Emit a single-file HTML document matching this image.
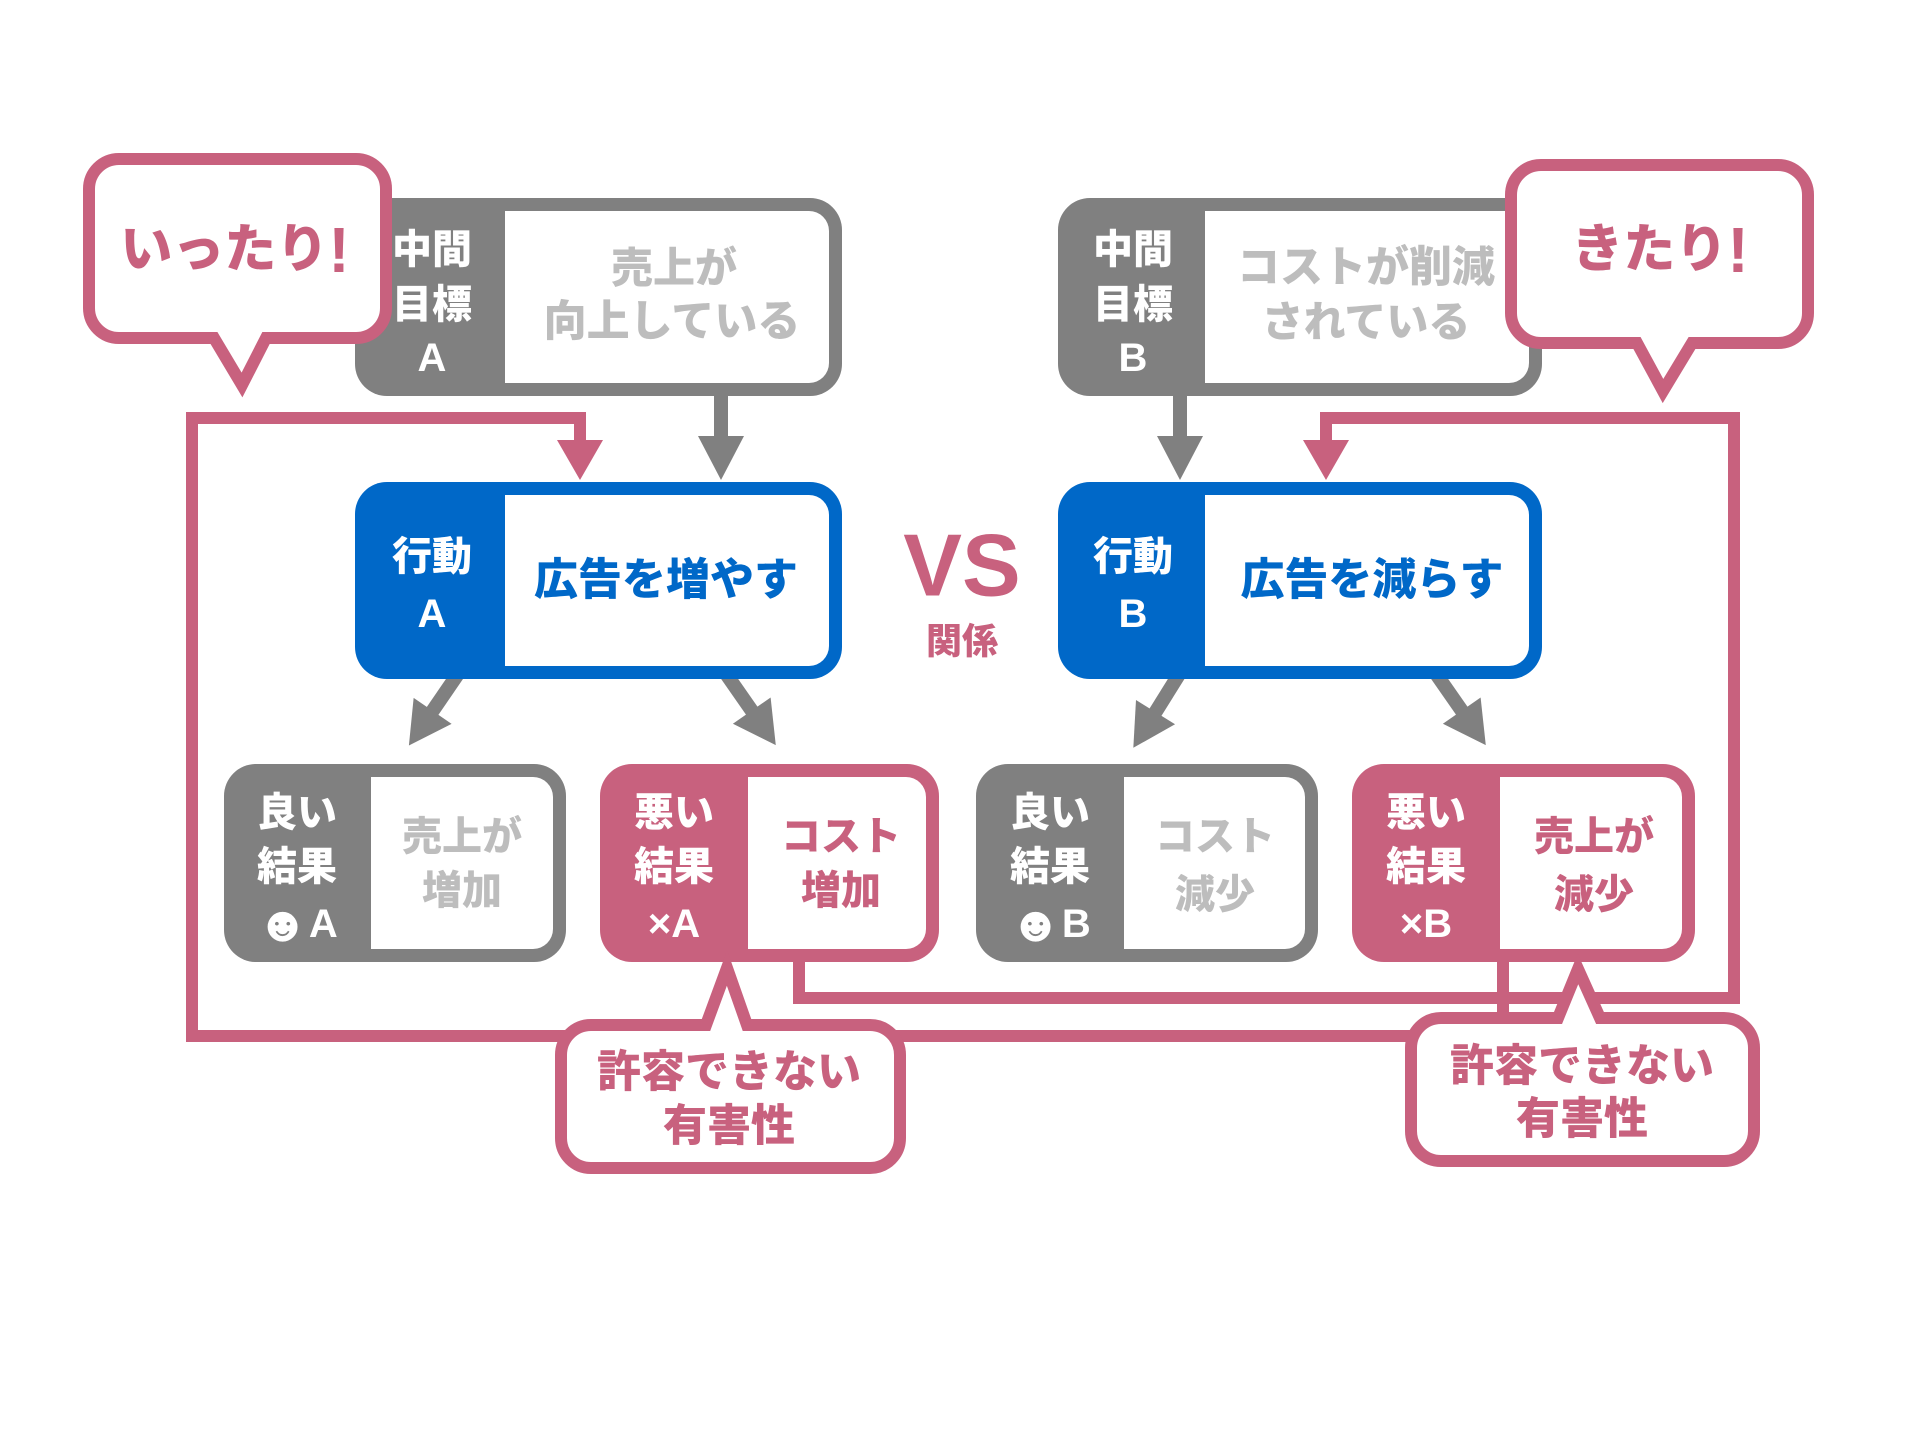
<!DOCTYPE html>
<html><head><meta charset="utf-8"><style>
html,body{margin:0;padding:0;background:#fff}
svg{display:block}
text{font-family:"Liberation Sans","Noto Sans CJK JP",sans-serif;font-weight:900;text-anchor:middle;dominant-baseline:central}
</style></head><body>
<svg width="1920" height="1440" viewBox="0 0 1920 1440" xmlns="http://www.w3.org/2000/svg">
<defs>
<g id="ga"><rect x="-7" y="0" width="14" height="60"/><polygon points="-23,52 23,52 0,94"/></g>
</defs>
<g fill="#808080">
<rect x="714" y="390" width="14" height="50"/><polygon points="698,436 744,436 721,480"/>
<rect x="1173" y="390" width="14" height="50"/><polygon points="1157,436 1203,436 1180,480"/>
<use href="#ga" transform="translate(462,668) rotate(34.4)"/>
<use href="#ga" transform="translate(722,668) rotate(-34.9)"/>
<use href="#ga" transform="translate(1183,668) rotate(31.9)"/>
<use href="#ga" transform="translate(1432,668) rotate(-34.9)"/>
</g>
<g fill="none" stroke="#c8617e" stroke-width="12" stroke-linejoin="miter">
<path d="M1503 960 V1036 H192 V418 H580 V445"/>
<path d="M799 960 V998 H1734 V418 H1326 V445"/>
</g>
<g fill="#c8617e">
<polygon points="557,440 603,440 580,480"/>
<polygon points="1303,440 1349,440 1326,480"/>
</g>
<rect x="355" y="198" width="487" height="198" rx="32" fill="#808080"/>
<rect x="505" y="211" width="324" height="172" rx="20" fill="#fff"/><rect x="505" y="211" width="30" height="172" fill="#fff"/>
<rect x="1058" y="198" width="484" height="198" rx="32" fill="#808080"/>
<rect x="1205" y="211" width="324" height="172" rx="20" fill="#fff"/><rect x="1205" y="211" width="30" height="172" fill="#fff"/>
<rect x="355" y="482" width="487" height="197" rx="32" fill="#0068c8"/>
<rect x="505" y="495" width="324" height="171" rx="20" fill="#fff"/><rect x="505" y="495" width="30" height="171" fill="#fff"/>
<rect x="1058" y="482" width="484" height="197" rx="32" fill="#0068c8"/>
<rect x="1205" y="495" width="324" height="171" rx="20" fill="#fff"/><rect x="1205" y="495" width="30" height="171" fill="#fff"/>
<rect x="224" y="764" width="342" height="198" rx="32" fill="#808080"/>
<rect x="371" y="777" width="182" height="172" rx="20" fill="#fff"/><rect x="371" y="777" width="30" height="172" fill="#fff"/>
<rect x="600" y="764" width="339" height="198" rx="32" fill="#c8617e"/>
<rect x="748" y="777" width="178" height="172" rx="20" fill="#fff"/><rect x="748" y="777" width="30" height="172" fill="#fff"/>
<rect x="976" y="764" width="342" height="198" rx="32" fill="#808080"/>
<rect x="1124" y="777" width="181" height="172" rx="20" fill="#fff"/><rect x="1124" y="777" width="30" height="172" fill="#fff"/>
<rect x="1352" y="764" width="343" height="198" rx="32" fill="#c8617e"/>
<rect x="1500" y="777" width="182" height="172" rx="20" fill="#fff"/><rect x="1500" y="777" width="30" height="172" fill="#fff"/>
<g fill="#fff" stroke="#c8617e" stroke-width="12" stroke-linejoin="miter">
<path d="M119 159 H356 A30 30 0 0 1 386 189 V308 A30 30 0 0 1 356 338 H266 L242 385 L214 338 H119 A30 30 0 0 1 89 308 V189 A30 30 0 0 1 119 159 Z"/>
<path d="M1541 165 H1778 A30 30 0 0 1 1808 195 V313 A30 30 0 0 1 1778 343 H1692 L1663 391 L1637 343 H1541 A30 30 0 0 1 1511 313 V195 A30 30 0 0 1 1541 165 Z"/>
<path d="M591 1025 H706 L727 968 L747 1025 H870 A30 30 0 0 1 900 1055 V1138 A30 30 0 0 1 870 1168 H591 A30 30 0 0 1 561 1138 V1055 A30 30 0 0 1 591 1025 Z"/>
<path d="M1441 1018 H1558 L1578 969 L1600 1018 H1724 A30 30 0 0 1 1754 1048 V1131 A30 30 0 0 1 1724 1161 H1441 A30 30 0 0 1 1411 1131 V1048 A30 30 0 0 1 1441 1018 Z"/>
</g>
<g fill="#fff" font-size="40">
<text x="432" y="250">中間</text><text x="432" y="305">目標</text><text x="432" y="358">A</text>
<text x="1133" y="250">中間</text><text x="1133" y="305">目標</text><text x="1133" y="358">B</text>
<text x="432" y="557">行動</text><text x="432" y="614">A</text>
<text x="1133" y="557">行動</text><text x="1133" y="614">B</text>
<text x="297" y="813">良い</text><text x="297" y="867">結果</text><text x="297" y="924"><tspan font-size="50">☻</tspan>A</text>
<text x="674" y="813">悪い</text><text x="674" y="867">結果</text><text x="674" y="924">×A</text>
<text x="1050" y="813">良い</text><text x="1050" y="867">結果</text><text x="1050" y="924"><tspan font-size="50">☻</tspan>B</text>
<text x="1426" y="813">悪い</text><text x="1426" y="867">結果</text><text x="1426" y="924">×B</text>
</g>
<g fill="#bdbdbd" font-size="42">
<text x="674" y="268">売上が</text><text x="672" y="322" font-size="43">向上している</text>
<text x="1366" y="268" font-size="43">コストが削減</text><text x="1366" y="322">されている</text>
<text x="462" y="837" font-size="40">売上が</text><text x="462" y="891" font-size="40">増加</text>
<text x="1215" y="837" font-size="40">コスト</text><text x="1215" y="895" font-size="40">減少</text>
</g>
<g fill="#0068c8" font-size="44">
<text x="666" y="580">広告を増やす</text>
<text x="1372" y="580">広告を減らす</text>
</g>
<g fill="#c8617e">
<text x="235" y="250" font-size="52">いったり<tspan font-size="64">!</tspan></text>
<text x="1660" y="250" font-size="52">きたり<tspan font-size="64">!</tspan></text>
<text x="962" y="565" font-size="88" font-family="Liberation Sans, sans-serif">VS</text>
<text x="962" y="641" font-size="36">関係</text>
<text x="841" y="837" font-size="40">コスト</text><text x="841" y="891" font-size="40">増加</text>
<text x="1594" y="837" font-size="40">売上が</text><text x="1594" y="895" font-size="40">減少</text>
<text x="729" y="1072" font-size="44">許容できない</text><text x="729" y="1126" font-size="44">有害性</text>
<text x="1582" y="1066" font-size="44">許容できない</text><text x="1582" y="1119" font-size="44">有害性</text>
</g>
</svg>
</body></html>
